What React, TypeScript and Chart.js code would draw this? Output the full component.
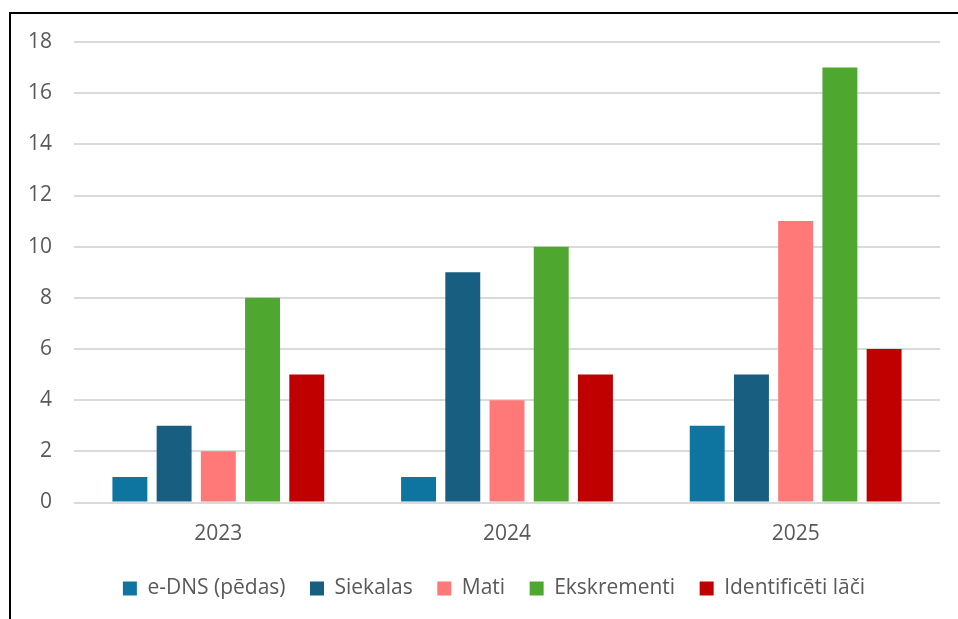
import React, { useEffect, useRef } from "react";
import { Chart, registerables } from "chart.js";

Chart.register(...registerables);

const years = ["2023", "2024", "2025"];
const seriesNames = ["e-DNS (pēdas)", "Siekalas", "Mati", "Ekskrementi", "Identificēti lāči"];
const eDns = [1, 1, 3];
const siekalas = [3, 9, 5];
const mati = [2, 4, 11];
const ekskrementi = [8, 10, 17];
const identificeti = [5, 5, 6];
const seriesColors = ["#0D75A0", "#175E80", "#FF7979", "#4EA72E", "#C00000"];
const yTicks = [0, 2, 4, 6, 8, 10, 12, 14, 16, 18];

const FONT = "'Open Sans', 'Liberation Sans', sans-serif";
const TEXT = "#595959";

// Centre the legend row under the plot rather than the whole canvas.
const legendOffset = {
  id: "legendOffset",
  afterLayout(chart: any) {
    if (chart.legend) {
      chart.legend.left = 48;
    }
  },
};

export default function App() {
  const ref = useRef<HTMLCanvasElement | null>(null);

  useEffect(() => {
    if (!ref.current) return;
    const values = [eDns, siekalas, mati, ekskrementi, identificeti];
    const chart = new Chart(ref.current, {
      type: "bar",
      data: {
        labels: years,
        datasets: seriesNames.map((name, i) => ({
          label: name,
          data: values[i],
          backgroundColor: seriesColors[i],
          borderWidth: 0,
          categoryPercentage: 0.766,
          barPercentage: 0.79,
        })),
      },
      options: {
        animation: false,
        responsive: false,
        layout: { padding: { top: 42, right: 18, left: 0, bottom: 10 } },
        plugins: {
          tooltip: { enabled: false },
          legend: {
            position: "bottom",
            labels: {
              boxWidth: 14,
              boxHeight: 14,
              padding: 24.5,
              color: TEXT,
              font: { family: FONT, size: 21 },
            },
          },
        },
        scales: {
          x: {
            grid: { display: false, drawTicks: false },
            border: { display: false },
            ticks: { color: TEXT, font: { family: FONT, size: 21 }, padding: 19 },
            afterFit: (s: any) => {
              s.height = 51;
            },
          },
          y: {
            min: 0,
            max: 18,
            grid: { color: "#DADADA", lineWidth: 2, drawTicks: false },
            border: { display: false },
            afterBuildTicks: (s: any) => {
              s.ticks = yTicks.map((v) => ({ value: v }));
            },
            ticks: { color: TEXT, font: { family: FONT, size: 21 }, padding: 22 },
            afterFit: (s: any) => {
              s.width = 74;
            },
          },
        },
      },
      plugins: [legendOffset],
    });
    return () => chart.destroy();
  }, []);

  return (
    <div style={{ position: "fixed", left: 0, top: 0, width: 958, height: 619, overflow: "hidden", background: "#fff" }}>
      <canvas ref={ref} width={958} height={619} style={{ position: "absolute", left: 0, top: 0 }} />
      <div
        style={{
          position: "absolute",
          left: 9,
          top: 12,
          width: 1000,
          height: 700,
          borderLeft: "2px solid #000",
          borderTop: "2px solid #000",
          pointerEvents: "none",
        }}
      />
    </div>
  );
}
